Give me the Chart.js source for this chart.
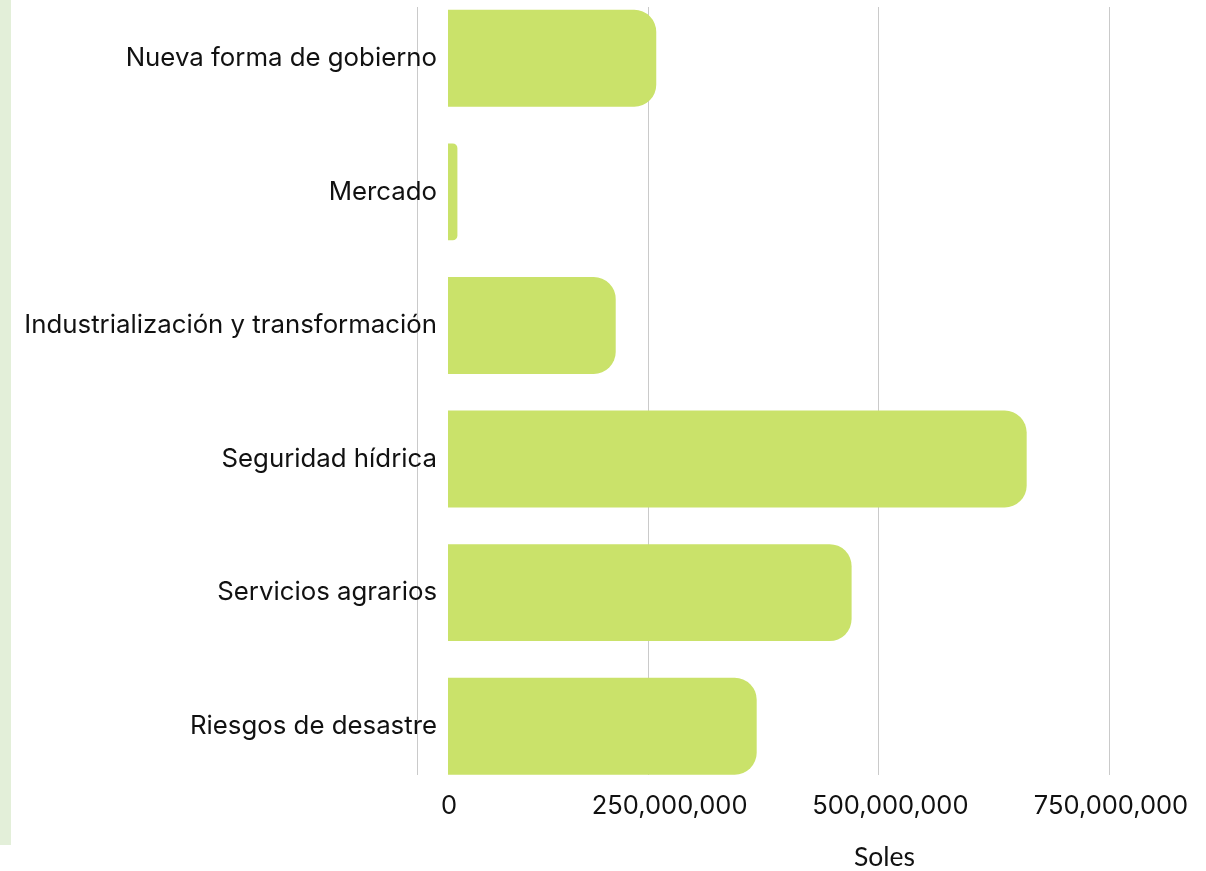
<!DOCTYPE html>
<html lang="es">
<head>
<meta charset="UTF-8">
<title>Soles por eje</title>
<style>
    html, body { margin: 0; padding: 0; background: #fff; overflow: hidden; }
    .pagina { position: relative; width: 1206px; height: 871px; overflow: hidden; }
    .franja { position: absolute; left: 0; top: 0; width: 11px; height: 845px; background: #e3efd9; }
    .lienzo { position: absolute; left: 0; top: 0; }
</style>
</head>
<body>
<div class="pagina">
    <div class="franja"></div>
    <canvas id="grafico" class="lienzo" width="1331" height="871"></canvas>
</div>

<script src="https://cdn.jsdelivr.net/npm/chart.js"></script>
<script>
var categorias = [
    'Nueva forma de gobierno',
    'Mercado',
    'Industrialización y transformación',
    'Seguridad hídrica',
    'Servicios agrarios',
    'Riesgos de desastre'
];
var soles = [226000000, 10200000, 182000000, 628000000, 438000000, 335000000];
var marcasSoles = [0, 250000000, 500000000, 750000000];
var etiquetasSoles = ['0', '250,000,000', '500,000,000', '750,000,000'];
var tituloEje = 'Soles';

var verde = 'rgb(202, 226, 106)';
var gris = 'rgb(202, 202, 202)';
var texto = '#111';

// las lineas guia quedan 30px antes del inicio de las barras
var inicioGuias = -32600000;
var pasoGuias = 250000000;

var puntos = categorias.map(function (c, i) {
    return { x: soles[i], y: i };
});

var ctx = document.getElementById('grafico').getContext('2d');
var grafico = new Chart(ctx, {
    type: 'bar',
    data: {
        datasets: [{
            label: tituloEje,
            data: puntos,
            backgroundColor: verde,
            borderWidth: 0,
            borderRadius: 22,
            barPercentage: 0.726,
            categoryPercentage: 1,
            xAxisID: 'x',
            yAxisID: 'y'
        }]
    },
    options: {
        indexAxis: 'y',
        responsive: false,
        animation: false,
        layout: { padding: { top: 7, right: 10, left: 0, bottom: 0 } },
        plugins: {
            legend: { display: false },
            tooltip: { enabled: false }
        },
        scales: {
            x: {
                type: 'linear',
                position: 'bottom',
                min: 0,
                max: 947400000,
                afterBuildTicks: function (eje) {
                    eje.ticks = [0, 1, 2, 3].map(function (k) {
                        return { value: inicioGuias + k * pasoGuias };
                    });
                },
                grid: { color: gris, lineWidth: 1, drawTicks: false },
                border: { display: false },
                ticks: { display: false }
            },
            xTicks: {
                type: 'linear',
                position: 'bottom',
                min: -1100000,
                max: 987900000,
                afterBuildTicks: function (eje) {
                    eje.ticks = marcasSoles.map(function (v) { return { value: v }; });
                },
                grid: { display: false, drawTicks: false },
                border: { display: false },
                ticks: {
                    autoSkip: false,
                    maxRotation: 0,
                    padding: 16,
                    color: texto,
                    font: { family: 'Inter', size: 25.5 },
                    callback: function (v, i) { return etiquetasSoles[i]; }
                },
                title: {
                    display: true,
                    text: tituloEje,
                    color: texto,
                    font: { family: 'Lato', size: 26.5, lineHeight: 1 },
                    padding: { top: 7, bottom: 0 }
                }
            },
            y: {
                type: 'linear',
                reverse: true,
                offset: false,
                min: -0.384,
                max: 5.3645,
                afterBuildTicks: function (eje) {
                    eje.ticks = categorias.map(function (c, i) { return { value: i }; });
                },
                afterFit: function (eje) {
                    eje.width = 448;
                    // las etiquetas no estan en los bordes, no hace falta reservar espacio
                    eje.paddingTop = 0;
                    eje.paddingBottom = 0;
                },
                grid: { display: false, drawTicks: false },
                border: { display: false },
                ticks: {
                    padding: 11,
                    color: texto,
                    font: { family: 'Inter', size: 25.8 },
                    callback: function (v) { return categorias[v]; }
                }
            }
        }
    }
});
</script>
</body>
</html>
